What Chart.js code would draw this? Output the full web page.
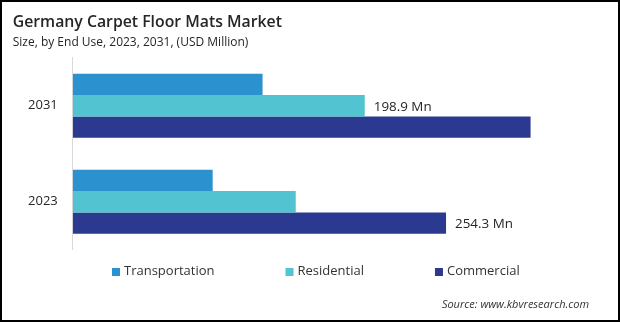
<!DOCTYPE html>
<html>
<head>
<meta charset="utf-8">
<title>Germany Carpet Floor Mats Market</title>
<script src="https://cdn.jsdelivr.net/npm/chart.js@4.4.1/dist/chart.umd.min.js"></script>
<style>
  html, body { margin: 0; padding: 0; background: #fff; }
  #frame {
    width: 620px;
    height: 322px;
    box-sizing: border-box;
    border: 2px solid #000;
    background: #fff;
  }
  #marketChart { display: block; }
</style>
</head>
<body>
<div id="frame">
  <canvas id="marketChart" width="616" height="318"></canvas>
</div>
<script>
// Years on the category axis, top to bottom
const years = ["2031", "2023"];

// Market size by end use, USD million
const transportation = [129.3, 95.3];
const residential = [198.9, 151.9];
const commercial = [311.9, 254.3];

const seriesNames = ["Transportation", "Residential", "Commercial"];
const seriesColors = ["#2B91CF", "#52C4D1", "#2B3990"];

// [dataset index, year index] of the bars that carry a value label
const labelledBars = [
  [1, 0],
  [2, 1],
];

const sourceText = "Source: www.kbvresearch.com";
const FONT = "'Open Sans', 'Noto Sans', sans-serif";

// value text at the end of selected bars
const barValueLabels = {
  id: "barValueLabels",
  afterDatasetsDraw(chart) {
    const ctx = chart.ctx;
    ctx.save();
    ctx.font = "13.4px " + FONT;
    ctx.fillStyle = "#262626";
    ctx.textAlign = "left";
    ctx.textBaseline = "middle";
    labelledBars.forEach(([ds, idx]) => {
      const bar = chart.getDatasetMeta(ds).data[idx];
      const value = chart.data.datasets[ds].data[idx];
      ctx.fillText(value.toFixed(1) + " Mn", bar.x + 9, bar.y + 1);
    });
    ctx.restore();
  },
};

// legend row and source line under the plot
const footer = {
  id: "footer",
  afterDraw(chart) {
    const ctx = chart.ctx;
    ctx.save();
    ctx.font = "13px " + FONT;
    ctx.textBaseline = "middle";
    ctx.textAlign = "left";
    let x = 110;
    chart.data.datasets.forEach((ds) => {
      ctx.fillStyle = ds.backgroundColor;
      ctx.fillRect(x, 266, 8, 8);
      ctx.fillStyle = "#333";
      ctx.fillText(ds.label, x + 12, 269.5);
      x += 12 + ctx.measureText(ds.label).width + 71;
    });

    ctx.font = "italic 11px " + FONT;
    ctx.textAlign = "right";
    ctx.fillStyle = "#333";
    ctx.fillText(sourceText, 587, 303);
    ctx.restore();
  },
};

const ctx = document.getElementById("marketChart").getContext("2d");

new Chart(ctx, {
  type: "bar",
  data: {
    labels: years,
    datasets: [
      { label: seriesNames[0], data: transportation, backgroundColor: seriesColors[0] },
      { label: seriesNames[1], data: residential, backgroundColor: seriesColors[1] },
      { label: seriesNames[2], data: commercial, backgroundColor: seriesColors[2] },
    ],
  },
  options: {
    indexAxis: "y",
    responsive: false,
    animation: false,
    events: [],
    layout: {
      padding: { left: 10.7, right: 31.5, top: 0, bottom: 70.2 },
    },
    datasets: {
      bar: {
        barPercentage: 1,
        categoryPercentage: 0.667,
        borderWidth: 0,
      },
    },
    plugins: {
      legend: { display: false },
      tooltip: { enabled: false },
      title: {
        display: true,
        text: "Germany Carpet Floor Mats Market",
        align: "start",
        color: "#262626",
        font: { family: FONT, size: 15.8, weight: "600" },
        padding: { top: 11, bottom: 0 },
      },
      subtitle: {
        display: true,
        text: "Size, by End Use, 2023, 2031, (USD Million)",
        align: "start",
        color: "#262626",
        font: { family: FONT, size: 12 },
        padding: { top: 3.1, bottom: 8.3 },
      },
    },
    scales: {
      x: {
        display: false,
        min: 0,
        max: 350,
      },
      y: {
        afterFit(scale) {
          scale.width = 60.1;
        },
        grid: { display: false, drawTicks: false },
        border: { display: true, color: "#d9d9d9", width: 1 },
        ticks: {
          padding: 15,
          color: "#262626",
          font: { family: FONT, size: 13 },
        },
      },
    },
  },
  plugins: [barValueLabels, footer],
});
</script>
</body>
</html>
